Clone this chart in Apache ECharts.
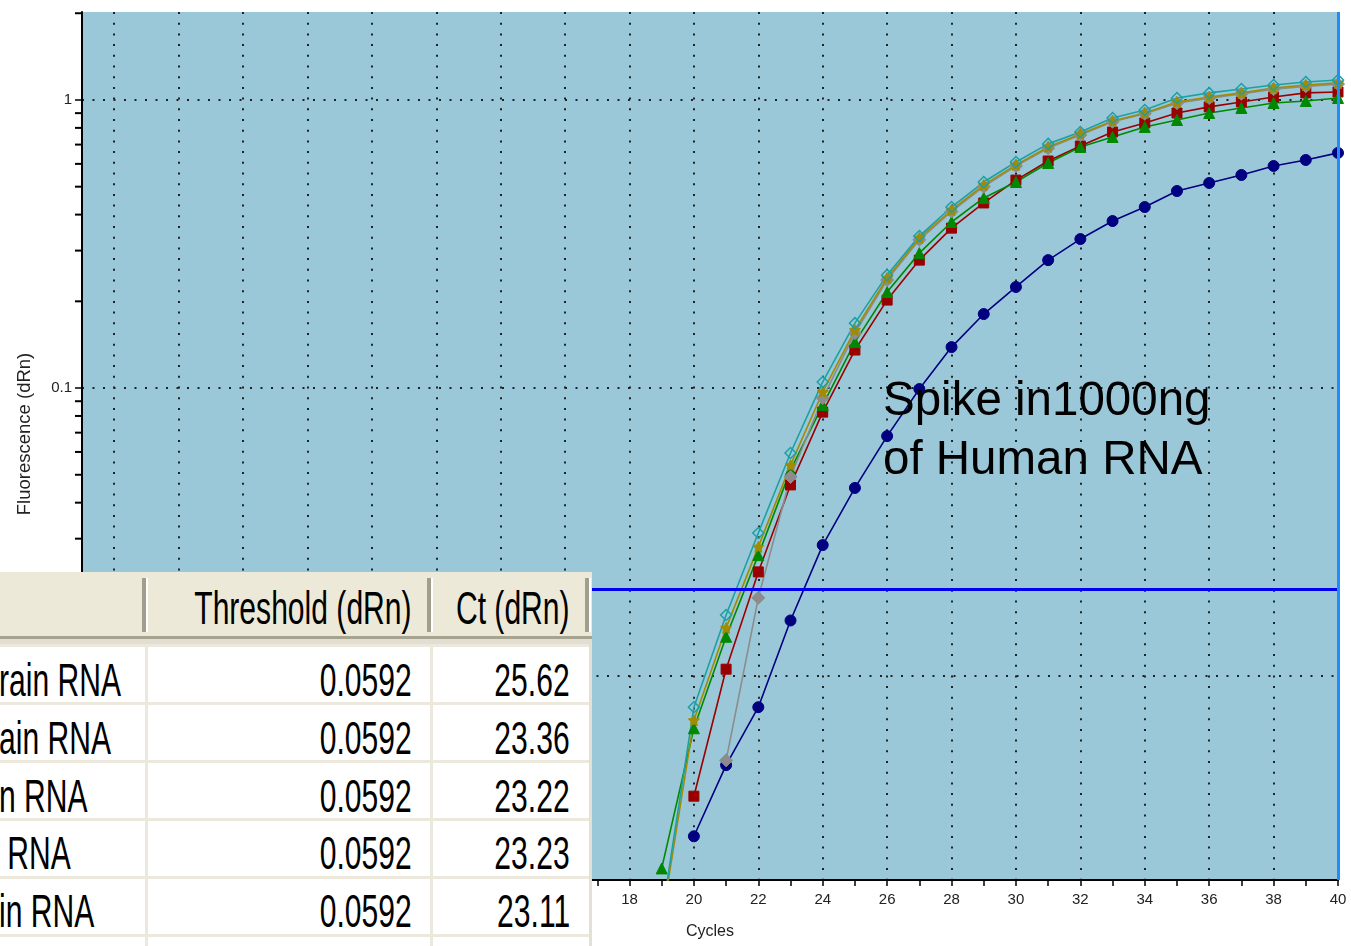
<!DOCTYPE html>
<html><head><meta charset="utf-8">
<script src="https://cdn.jsdelivr.net/npm/echarts@6/dist/echarts.min.js"></script>
<style>
html,body{margin:0;padding:0;background:#fff;width:1351px;height:946px;overflow:hidden;}
#chart{position:absolute;left:0;top:0;width:1351px;height:946px;}
#tbl{position:absolute;left:0;top:572px;width:592px;height:374px;background:#fff;overflow:hidden;font-family:"Liberation Sans",Arial,sans-serif;font-size:47px;color:#000;}
.t{position:absolute;white-space:pre;line-height:47px;height:47px;}
.r{transform-origin:100% 50%;transform:scaleX(0.64);}
.l{transform-origin:0 50%;transform:scaleX(0.64);}
.b{position:absolute;}
</style></head>
<body><div id="chart"></div><div id="tbl"></div>
<script>
// ---- data ----
const cycles = ['1','2','3','4','5','6','7','8','9','10','11','12','13','14','15','16','17','18','19','20',
                '21','22','23','24','25','26','27','28','29','30','31','32','33','34','35','36','37','38','39','40'];
const xTickLabels = ['18','20','22','24','26','28','30','32','34','36','38','40'];
const yTickLabels = ['1','0.1'];

const navyStart = 20;
const navy = [0.00278,0.00491,0.0078,0.0156,0.0285,0.045,0.0681,0.0992,0.1387,0.1807,0.2243,0.278,0.329,0.38,0.425,0.483,0.515,0.549,0.59,0.619,0.655];
const redStart = 20;
const red = [0.00383,0.01057,0.023,0.0461,0.0825,0.1355,0.202,0.278,0.359,0.439,0.527,0.614,0.692,0.774,0.832,0.901,0.946,0.984,1.024,1.058,1.066];
const greenStart = 19;
const green = [0.00215,0.00659,0.0137,0.0263,0.0519,0.0873,0.1444,0.2154,0.294,0.377,0.457,0.519,0.604,0.687,0.744,0.806,0.852,0.901,0.938,0.976,0.992,1.016];
const grayStart = 21;
const gray = [0.0051,0.0187,0.0491,0.0923,0.155,0.237,0.327,0.41,0.50,0.59,0.68,0.755,0.84,0.895,0.975,1.015,1.05,1.09,1.115,1.135];
const oliveStart = 19;
const olive = [0.0014,0.00703,0.0147,0.0281,0.054,0.0969,0.159,0.241,0.332,0.415,0.507,0.595,0.687,0.762,0.845,0.901,0.984,1.024,1.058,1.101,1.127,1.146];
const tealStart = 19;
const teal = [0.00146,0.0078,0.0163,0.0314,0.0595,0.105,0.168,0.247,0.337,0.425,0.519,0.609,0.704,0.774,0.866,0.923,1.016,1.058,1.092,1.127,1.155,1.173];

const thresholdLine = 0.0194;
const yMin = 0.00196, yMax = 2.02;
const minorTickValues = [0.002,0.003,0.004,0.005,0.006,0.007,0.008,0.009,0.02,0.03,0.04,0.05,0.06,0.07,0.08,0.09,0.2,0.3,0.4,0.5,0.6,0.7,0.8,0.9,2];

const tableHeaders = ['Threshold (dRn)', 'Ct (dRn)'];
const tableNames = ['rain RNA','ain RNA','n RNA',' RNA','in RNA'];
const tableThresholds = ['0.0592','0.0592','0.0592','0.0592','0.0592'];
const tableCts = ['25.62','23.36','23.22','23.23','23.11'];

const annotation = 'Spike in1000ng\nof Human RNA';

// ---- chart ----
const FONT = '"Liberation Sans", Arial, sans-serif';
function pairs(start, vals){ return vals.map((v,i)=>[String(start+i), v]); }
const starPath = 'path://M0,-10L2.9,-4L9.5,-3L4.7,1.5L5.9,8L0,5L-5.9,8L-4.7,1.5L-9.5,-3L-2.9,-4Z';

function series(name, start, vals, color, symbol, size, extra){
  return Object.assign({
    name, type:'line', data:pairs(start, vals), symbol, symbolSize:size,
    lineStyle:{color, width:1.6}, itemStyle:{color, borderColor:color},
    connectNulls:false, clip:true, animation:false
  }, extra||{});
}

const chart = echarts.init(document.getElementById('chart'), null, {renderer:'canvas'});
chart.setOption({
  animation:false,
  backgroundColor:'#ffffff',
  grid:{left:82, right:13, top:12, bottom:66, show:true, backgroundColor:'#9BC8D8', borderWidth:0},
  xAxis:{
    type:'category', data:cycles, boundaryGap:false,
    name:'Cycles', nameLocation:'middle', nameGap:44,
    nameTextStyle:{fontSize:16, color:'#222', fontFamily:FONT},
    axisLine:{lineStyle:{color:'#000', width:2}},
    axisTick:{interval:0, length:6, lineStyle:{color:'#000', width:1.5}},
    axisLabel:{interval:(i,v)=>xTickLabels.indexOf(v)>=0, fontSize:15, color:'#222', margin:12, fontFamily:FONT},
    splitLine:{show:true, interval:(i,v)=>(+v)%2===0, lineStyle:{color:'#222', width:2, type:[2,8.7]}}
  },
  yAxis:{
    type:'log', logBase:10, min:yMin, max:yMax,
    name:'Fluorescence (dRn)', nameLocation:'middle', nameGap:48,
    nameTextStyle:{fontSize:18.5, color:'#222', fontFamily:FONT, padding:[0,0,0,24]},
    axisLine:{show:true, lineStyle:{color:'#000', width:2}},
    axisTick:{show:true, length:7, lineStyle:{color:'#000', width:1.5}},
    axisLabel:{showMinLabel:false, showMaxLabel:false, fontSize:15, color:'#222', margin:10, fontFamily:FONT,
      formatter:v=>{ const s = String(+(+v).toPrecision(3)); return yTickLabels.indexOf(s)>=0 ? s : ''; }},
    splitLine:{show:true, showMinLine:false, showMaxLine:false, lineStyle:{color:'#222', width:2, type:[2,8.5]}}
  },
  series:[
    series('Spike in 1000ng of Human RNA', navyStart, navy, '#000080', 'circle', 11),
    series('Sample 2', redStart, red, '#990000', 'rect', 10),
    series('Sample 3', greenStart, green, '#008800', 'triangle', 11),
    series('Sample 4', grayStart, gray, '#8C8C8C', 'diamond', 13),
    series('Sample 5', oliveStart, olive, '#A08C00', starPath, 11),
    series('Sample 6', tealStart, teal, '#1BA0A5', 'diamond', 11, {
      itemStyle:{color:'rgba(0,0,0,0)', borderColor:'#1BA0A5', borderWidth:1.5},
      markLine:{silent:true, symbol:'none', label:{show:false}, animation:false,
        data:[
          {yAxis:thresholdLine, lineStyle:{color:'#0000F0', width:3, type:'solid'}},
          {xAxis:'40', lineStyle:{color:'#1E8EFF', width:3, type:'solid'}}
        ]},
      markPoint:{silent:true, animation:false, symbol:'rect', symbolSize:[6,2], symbolOffset:[-4,0],
        label:{show:false}, itemStyle:{color:'#000', borderWidth:0},
        data:minorTickValues.map(v=>({coord:[cycles[0], v]}))}
    })
  ],
  graphic:[{
    type:'text', x:883, y:372, z:100,
    style:{text:annotation, fontSize:47.5, fontFamily:FONT, fill:'#000', lineHeight:59, verticalAlign:'top'}
  }]
});

// ---- table overlay ----
const tbl = document.getElementById('tbl');
function box(l,t,w,h,c){ const d=document.createElement('div'); d.className='b'; d.style.cssText=`left:${l}px;top:${t}px;width:${w}px;height:${h}px;background:${c};`; tbl.appendChild(d); }
function txt(s, cls, pos){ const d=document.createElement('div'); d.className='t '+cls; d.textContent=s; Object.assign(d.style,pos); tbl.appendChild(d); }
// header
box(0,0,592,65,'#ECE9D8');
box(0,64,592,3,'#A7A391');
box(0,67,592,5,'#E2DFD2');
[[142],[427],[585]].forEach(([x])=>{ box(x,6,4,54,'#A19E8E'); box(x+4,6,2,54,'#FFFFFF'); });
// body gridlines
const rowTop = 75, rowH = 58;
for(let i=0;i<=5;i++){ box(0,rowTop+i*rowH-3,592,3,'#ECE9DC'); }
box(145,72,3,302,'#ECE9DC');
box(430,72,3,302,'#ECE9DC');
box(589,72,3,302,'#E4E1D4');
// header texts
txt(tableHeaders[0],'r',{right:(592-412)+'px', top:(607-572-23.5)+'px'});
txt(tableHeaders[1],'r',{right:(592-570)+'px', top:(607-572-23.5)+'px'});
// rows
const rowCenters = [679,737,795,852,910];
for(let i=0;i<tableNames.length;i++){
  const top = (rowCenters[i]-572-23.5)+'px';
  txt(tableNames[i],'l',{left:'-1px', top});
  txt(tableThresholds[i],'r',{right:(592-412)+'px', top});
  txt(tableCts[i],'r',{right:(592-570)+'px', top});
}
</script>
</body></html>
